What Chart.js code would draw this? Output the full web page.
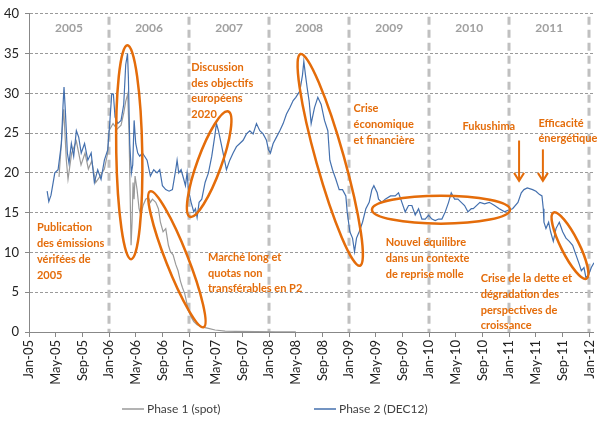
<!DOCTYPE html>
<html><head><meta charset="utf-8">
<script src="https://cdn.jsdelivr.net/npm/chart.js@4.4.1/dist/chart.umd.min.js"></script>
<style>html,body{margin:0;padding:0;background:#fff}</style>
</head><body>
<canvas id="c" width="608" height="426"></canvas>
<script>
// ---- data (x = months since Jan 2005) ----
const tickMonths = [0,4,8,12,16,20,24,28,32,36,40,44,48,52,56,60,64,68,72,76,80,84];
const tickLabels = ['Jan-05','May-05','Sep-05','Jan-06','May-06','Sep-06','Jan-07','May-07','Sep-07','Jan-08','May-08','Sep-08','Jan-09','May-09','Sep-09','Jan-10','May-10','Sep-10','Jan-11','May-11','Sep-11','Jan-12'];
const yearLabels = ['2005','2006','2007','2008','2009','2010','2011'];
const seriesNames = ['Phase 1 (spot)','Phase 2 (DEC12)'];

const p1Months = [4.5,5.2,5.6,5.85,6.4,7.1,7.8,8.4,8.9,9.4,10.0,10.6,11.3,11.8,12.0,12.6,13.2,13.8,14.2,14.5,14.8,15.0,15.3,15.45,15.6,15.75,15.9,16.2,16.5,16.75,17.1,17.5,17.9,18.2,18.5,19.0,19.4,19.7,20.1,20.5,20.9,21.2,21.6,22.0,22.35,22.7,23.0,23.35,23.7,23.9,24.3,24.7,25.2,25.9,26.9,27.9,29.4,31,34,37,40];
const p1Values = [19.5,28.0,21.6,19.2,22.5,24.0,21.0,22.5,20.5,21.5,18.8,19.5,20.5,22.5,25.3,26.2,25.5,26.0,27.5,29.0,29.9,25.0,10.9,13.8,18.8,16.7,19.6,17.9,15.5,14.7,15.9,16.7,16.9,16.3,16.7,16.3,15.5,13.8,12.6,13.0,10.9,10.1,9.7,8.5,7.7,6.4,5.6,4.8,3.5,2.7,1.9,1.3,0.9,0.65,0.45,0.25,0.12,0.08,0.05,0.03,0.02];

const p2Months = [2.72,2.97,3.3,3.87,4.36,4.86,5.1,5.25,5.45,5.75,6.0,6.35,6.7,7.1,7.45,7.83,8.33,8.82,9.32,9.8,10.3,10.8,11.3,11.8,12.1,12.4,12.65,12.9,13.3,13.8,14.2,14.5,14.77,14.9,15.1,15.35,15.55,15.76,16.0,16.3,16.6,17.0,17.4,17.7,18.2,18.7,19.2,19.6,20.0,20.5,21.0,21.5,22.0,22.2,22.45,22.8,23.2,23.45,23.7,23.9,24.3,24.7,24.95,25.2,25.5,25.9,26.4,26.9,27.4,27.9,28.1,28.4,28.8,29.1,29.6,30.1,30.6,31.1,31.6,32.1,32.6,33.1,33.6,34.1,34.6,35.1,35.6,35.9,36.2,36.6,37.1,37.6,38.1,38.6,39.1,39.6,40.0,40.6,41.0,41.2,41.45,41.7,42.0,42.3,42.8,43.3,43.8,44.3,44.8,45.1,45.5,46.0,46.5,47.0,47.5,47.7,48.1,48.5,48.8,49.1,49.5,50.0,50.5,51.0,51.4,51.7,52.2,52.4,52.9,53.4,54.2,54.9,55.4,55.9,56.4,56.9,57.4,57.9,58.4,58.9,59.4,59.9,60.4,60.9,61.4,61.9,62.4,62.9,63.3,63.8,64.3,64.8,65.3,65.8,66.3,66.6,67.6,68.3,69.0,69.8,70.5,71.3,71.8,72.5,73.3,73.8,74.2,74.7,75.5,76.0,76.5,76.9,77.1,77.2,77.5,77.9,78.2,78.6,79.0,79.5,80.0,80.5,81.0,81.5,82.0,82.5,82.8,83.2,83.5,83.9,84.3,84.7];
const p2Values = [17.7,16.4,17.2,20.0,20.4,23.7,28.5,30.8,27.8,22.5,21.2,23.7,22.1,25.3,24.5,22.5,23.7,21.6,22.5,18.8,20.4,19.2,21.6,22.9,26.2,29.9,29.9,27.0,26.2,26.6,28.6,33.6,35.0,32.0,23.7,20.0,21.0,26.6,23.7,22.5,22.1,22.5,22.0,21.6,19.6,20.4,20.0,20.4,18.4,17.9,17.7,17.9,20.4,21.6,20.0,20.4,19.2,18.4,20.0,17.9,16.3,15.1,15.5,14.4,16.3,16.7,18.8,20.0,22.1,24.9,26.2,25.3,23.7,22.5,20.4,21.6,22.5,23.3,23.7,24.1,24.9,25.3,24.9,26.2,25.3,24.9,24.1,22.9,22.5,23.7,24.5,25.3,26.2,27.4,28.2,29.1,29.5,30.3,32.3,34.0,32.3,30.7,29.0,26.2,28.2,29.5,28.6,26.6,25.3,21.6,20.4,19.2,17.9,17.9,17.1,15.1,12.6,11.8,10.1,11.8,12.6,13.8,15.5,16.3,17.9,18.4,17.5,16.7,16.3,16.7,17.1,17.1,17.5,16.3,15.1,15.9,15.9,14.7,15.5,14.2,14.2,14.7,14.2,14.0,14.2,14.2,15.1,16.3,17.5,16.7,16.7,16.3,15.9,15.1,15.5,15.5,16.3,16.1,16.3,15.9,15.5,15.1,15.3,15.5,16.3,17.5,17.9,18.1,17.9,17.7,17.3,17.1,15.5,13.8,13.0,13.8,12.6,11.4,13.0,13.8,12.6,11.8,11.4,10.9,9.7,8.5,7.7,8.1,6.8,7.2,8.1,8.7];

// ---- annotations (positions in data units: month, value) ----
const ORANGE = '#E46C0A';
const ellipses = [
  {m:15.03, v:22.6, a:107, b:13, rot:89},
  {m:22.17, v:9.14, a:73, b:11, rot:68.5},
  {m:27.01, v:21.1, a:56, b:12, rot:-70},
  {m:45.16, v:21.64, a:110, b:14, rot:74.3},
  {m:61.76, v:15.38, a:69, b:14, rot:0},
  {m:81.1, v:10.86, a:37, b:9, rot:63.4}
];
const notes = [
  {m:1.19, v:13.09, lines:['Publication','des émissions','vérifées de','2005']},
  {m:24.33, v:33.25, lines:['Discussion','des objectifs','européens','2020']},
  {m:26.83, v:9.38, lines:['Marché long et','quotas non','transférables en P2']},
  {m:48.66, v:28.06, lines:['Crise','économique','et financière']},
  {m:53.47, v:11.23, lines:['Nouvel équilibre','dans un contexte','de reprise molle']},
  {m:64.98, v:25.8, lines:['Fukushima']},
  {m:76.38, v:26.26, lines:['Efficacité','énergétique']},
  {m:67.71, v:6.70, lines:['Crise de la dette et','dégradation des','perspectives de','croissance']}
];
const arrows = [
  {m:73.47, from:24.07, to:19.0},
  {m:77.04, from:22.96, to:19.0}
];

const FONT = 'Lato, "Open Sans", sans-serif';

const decor = {
  id:'decor',
  beforeDatasetsDraw(chart){
    const {ctx, chartArea:ca, scales:{x}} = chart;
    ctx.save();
    ctx.strokeStyle = '#C0C0C0'; ctx.lineWidth = 3; ctx.setLineDash([8,5]);
    for (let k=1;k<=7;k++){
      const px = Math.round(x.getPixelForValue(12*k));
      ctx.beginPath(); ctx.moveTo(px, ca.top+3); ctx.lineTo(px, ca.bottom); ctx.stroke();
    }
    ctx.setLineDash([]);
    ctx.fillStyle = '#A0A0A0'; ctx.font = 'bold 12px '+FONT;
    ctx.textAlign='center'; ctx.textBaseline='middle';
    yearLabels.forEach((t,i)=>ctx.fillText(t, x.getPixelForValue(12*i+6), ca.top+14));
    ctx.restore();
  },
  afterDatasetsDraw(chart){
    const {ctx, scales:{x,y}} = chart;
    ctx.save();
    ctx.strokeStyle = ORANGE; ctx.lineWidth = 2.5;
    ellipses.forEach(e=>{
      ctx.beginPath();
      ctx.ellipse(x.getPixelForValue(e.m), y.getPixelForValue(e.v), e.a, e.b, e.rot*Math.PI/180, 0, Math.PI*2);
      ctx.stroke();
    });
    ctx.lineWidth = 2;
    arrows.forEach(a=>{
      const px = x.getPixelForValue(a.m), y0 = y.getPixelForValue(a.from), y1 = y.getPixelForValue(a.to);
      ctx.beginPath(); ctx.moveTo(px,y0); ctx.lineTo(px,y1); ctx.stroke();
      ctx.beginPath(); ctx.moveTo(px-5,y1-8); ctx.lineTo(px,y1); ctx.lineTo(px+5,y1-8); ctx.stroke();
    });
    ctx.fillStyle = ORANGE; ctx.font = 'bold 11px '+FONT;
    ctx.textAlign='left'; ctx.textBaseline='middle';
    notes.forEach(n=>{
      const px = x.getPixelForValue(n.m), py = y.getPixelForValue(n.v);
      n.lines.forEach((l,i)=>ctx.fillText(l, px, py + i*15.7));
    });
    ctx.restore();
  },
  afterDraw(chart){
    const {ctx} = chart;
    const ds = chart.data.datasets;
    ctx.save();
    ctx.font = '12px '+FONT; ctx.textAlign='left'; ctx.textBaseline='middle';
    const items = [{x:122, ds:ds[0]}, {x:314, ds:ds[1]}];
    items.forEach(it=>{
      ctx.strokeStyle = it.ds.borderColor; ctx.lineWidth = 1.5;
      ctx.beginPath(); ctx.moveTo(it.x, 409); ctx.lineTo(it.x+22, 409); ctx.stroke();
      ctx.fillStyle = '#404040';
      ctx.fillText(it.ds.label, it.x+25, 409);
    });
    ctx.restore();
  }
};

new Chart(document.getElementById('c'), {
  type:'line',
  data:{datasets:[
    {label:seriesNames[0], data:p1Months.map((m,i)=>({x:m,y:p1Values[i]})), borderColor:'#9A9A9A', borderWidth:1.2, pointRadius:0, tension:0, order:1},
    {label:seriesNames[1], data:p2Months.map((m,i)=>({x:m,y:p2Values[i]})), borderColor:'#4470AE', borderWidth:1.2, pointRadius:0, tension:0, order:0}
  ]},
  options:{
    responsive:false, animation:false, devicePixelRatio:1,
    layout:{padding:{left:0,right:10,top:8,bottom:0}},
    plugins:{legend:{display:false}, tooltip:{enabled:false}},
    scales:{
      x:{type:'linear', min:0, max:84.7,
        afterBuildTicks:s=>{s.ticks = tickMonths.map(v=>({value:v}));},
        afterFit:s=>{s.height = 94;},
        ticks:{autoSkip:false, maxRotation:90, minRotation:90, padding:3, color:'#222', font:{family:FONT, size:13},
          callback:(v)=>tickLabels[tickMonths.indexOf(v)]},
        grid:{drawOnChartArea:false, drawTicks:true, tickLength:5, color:'#888', tickColor:'#888'},
        border:{display:true, color:'#888', width:1}
      },
      y:{min:0, max:40,
        afterFit:s=>{s.width = 29;},
        ticks:{stepSize:5, padding:6, color:'#222', font:{family:FONT, size:13}},
        grid:{color:'#9A9A9A', lineWidth:1, tickLength:4, tickColor:'#888', tickBorderDash:[]},
        border:{display:true, color:'#888', width:1, dash:[3,2]}
      }
    }
  },
  plugins:[decor]
});
</script>
</body></html>
